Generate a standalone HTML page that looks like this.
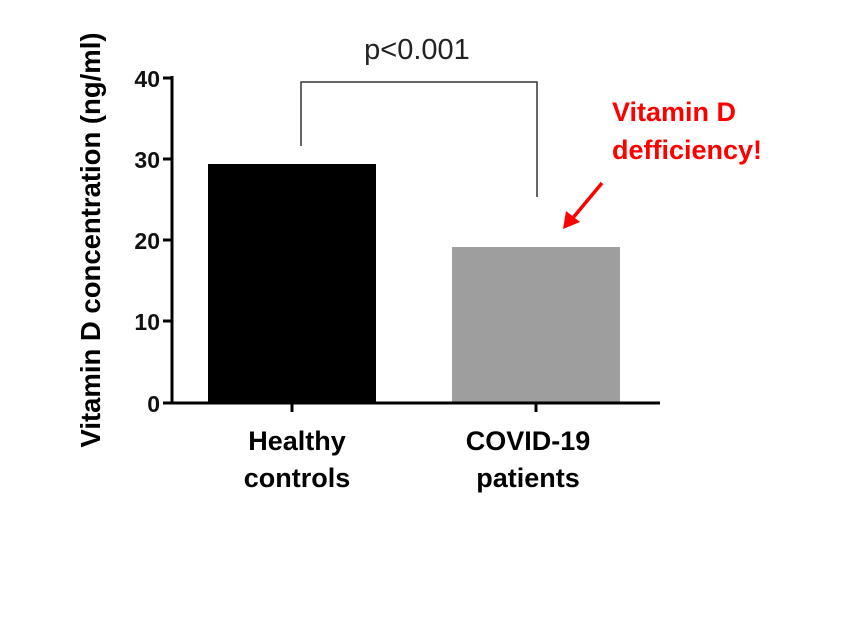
<!DOCTYPE html>
<html><head><style>body{margin:0;background:#fff}</style></head><body>
<svg width="861" height="616" xmlns="http://www.w3.org/2000/svg" font-family="Liberation Sans, Arial, sans-serif">
<rect width="861" height="616" fill="#fff"/>
<rect x="208" y="164" width="168" height="239" fill="#000"/>
<rect x="452" y="247" width="168" height="156" fill="#9e9e9e"/>
<g stroke="#000" stroke-width="3" fill="none">
<line x1="172" y1="76" x2="172" y2="404"/>
<line x1="170" y1="403" x2="660" y2="403"/>
<line x1="163" y1="78" x2="172" y2="78"/>
<line x1="163" y1="159" x2="172" y2="159"/>
<line x1="163" y1="240" x2="172" y2="240"/>
<line x1="163" y1="321" x2="172" y2="321"/>
<line x1="163" y1="403" x2="172" y2="403"/>
<line x1="292" y1="403" x2="292" y2="412"/>
<line x1="536" y1="403" x2="536" y2="412"/>
</g>
<polyline points="301,146 301,82 537,82 537,197" fill="none" stroke="#333" stroke-width="1.5"/>
<text x="417" y="59" font-size="29" text-anchor="middle" fill="#222">p&lt;0.001</text>
<g font-size="23" font-weight="bold" text-anchor="end" fill="#111">
<text x="160" y="87">40</text><text x="160" y="168">30</text><text x="160" y="249">20</text><text x="160" y="330">10</text><text x="160" y="412">0</text>
</g>
<g font-size="27" font-weight="bold" text-anchor="middle" fill="#000">
<text x="297" y="450">Healthy</text><text x="297" y="487">controls</text>
<text x="528" y="450">COVID-19</text><text x="528" y="487">patients</text>
<text transform="translate(100,240) rotate(-90)" font-size="27.5">Vitamin D concentration (ng/ml)</text>
</g>
<g font-size="27" font-weight="bold" fill="#f00">
<text x="612" y="121">Vitamin D</text><text x="612" y="159">defficiency!</text>
</g>
<line x1="602" y1="183" x2="572" y2="219" stroke="#f00" stroke-width="3.5"/>
<polygon points="563,229 566,211 580,222" fill="#f00"/>
</svg>
</body></html>
